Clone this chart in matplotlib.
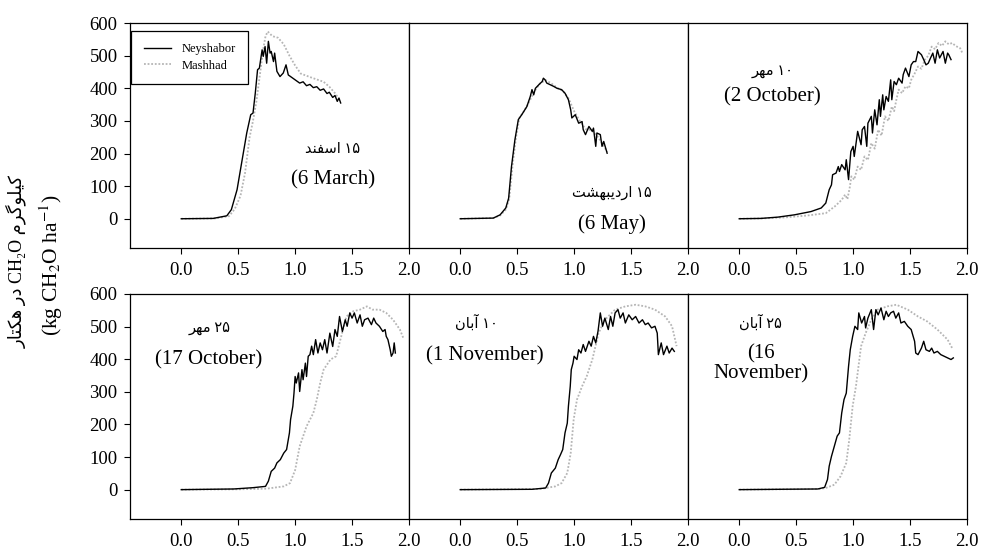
import matplotlib
matplotlib.use('Agg')
import matplotlib.pyplot as plt

plt.rcParams['font.family'] = ['Liberation Serif', 'DejaVu Sans']
plt.rcParams['mathtext.fontset'] = 'stix'

# --- данные (x: 0..2, y: kg CH2O ha-1) ---
mar_x_ney = [0.00, 0.28, 0.40, 0.44, 0.49, 0.53, 0.575, 0.61, 0.63, 0.65, 0.67, 0.686, 0.71, 0.72,
             0.736, 0.75, 0.765, 0.78, 0.79, 0.81, 0.82, 0.84, 0.867, 0.896, 0.92, 0.94, 0.98,
             1.04, 1.07, 1.10, 1.13, 1.16, 1.19, 1.22, 1.25, 1.28, 1.30, 1.33, 1.35, 1.37, 1.385, 1.40]
mar_y_ney = [0, 1, 9, 28, 89, 171, 263, 319, 324, 385, 457, 462, 518, 498,
             528, 477, 544, 508, 513, 482, 508, 452, 436, 447, 472, 441, 431,
             416, 420, 408, 412, 402, 405, 394, 398, 384, 388, 372, 378, 360, 370, 355]
mar_x_msh = [0, 0.3, 0.42, 0.47, 0.52, 0.56, 0.6, 0.63, 0.66, 0.69, 0.72, 0.74, 0.76, 0.8,
             0.85, 0.9, 0.95, 1.0, 1.05, 1.15, 1.25, 1.3, 1.35, 1.39]
mar_y_msh = [0, 1, 8, 30, 70, 140, 250, 300, 360, 440, 520, 560, 574, 560,
             555, 535, 500, 470, 445, 432, 420, 405, 385, 365]

may_x_ney = [0.0, 0.29, 0.35, 0.40, 0.425, 0.45, 0.48, 0.51, 0.54, 0.585, 0.615, 0.63, 0.645, 0.66,
             0.69, 0.72, 0.73, 0.745, 0.76, 0.79, 0.82, 0.85, 0.89, 0.92, 0.95, 0.97, 0.98, 1.01,
             1.04, 1.07, 1.08, 1.10, 1.13, 1.16, 1.17, 1.19, 1.20, 1.23, 1.245, 1.26, 1.29]
may_y_ney = [0, 2, 12, 33, 63, 160, 242, 304, 319, 344, 375, 396, 380, 400,
             411, 421, 431, 426, 416, 411, 406, 400, 396, 385, 365, 334, 309, 319,
             293, 298, 273, 258, 283, 268, 278, 222, 263, 258, 222, 237, 201]
may_x_msh = [0, 0.29, 0.35, 0.40, 0.43, 0.46, 0.49, 0.52, 0.56, 0.60, 0.65, 0.70, 0.75, 0.80,
             0.85, 0.90, 0.95, 1.0, 1.05, 1.10, 1.15, 1.20, 1.25, 1.29]
may_y_msh = [0, 2, 10, 28, 60, 165, 250, 310, 330, 355, 390, 415, 425, 415,
             402, 392, 370, 330, 300, 275, 272, 255, 230, 205]

oct2_x_ney = [0.0, 0.19, 0.34, 0.485, 0.63, 0.72, 0.76, 0.79, 0.81, 0.82, 0.85, 0.87, 0.88, 0.90,
              0.93, 0.94, 0.96, 0.98, 1.0, 1.01, 1.03, 1.04, 1.07, 1.08, 1.10, 1.12, 1.13, 1.16,
              1.17, 1.19, 1.21, 1.23, 1.24, 1.26, 1.27, 1.29, 1.31, 1.33, 1.34, 1.36, 1.38, 1.40,
              1.43, 1.44, 1.46, 1.49, 1.51, 1.53, 1.55, 1.57, 1.60, 1.62, 1.64, 1.66, 1.68, 1.70,
              1.72, 1.74, 1.76, 1.79, 1.81, 1.83, 1.84, 1.86]
oct2_y_ney = [0, 1, 5, 12, 22, 33, 48, 89, 104, 135, 140, 160, 145, 166,
              150, 181, 120, 206, 222, 191, 242, 268, 227, 273, 283, 222, 293, 314,
              263, 334, 288, 365, 314, 380, 334, 375, 360, 426, 365, 421, 411, 431,
              416, 442, 462, 436, 472, 482, 482, 513, 503, 488, 472, 477, 493, 508,
              477, 518, 493, 513, 477, 508, 503, 488]
oct2_x_msh = [0, 0.2, 0.4, 0.6, 0.76, 0.84, 0.9, 0.93, 0.95, 0.97, 0.985, 1.01, 1.04, 1.07, 1.10,
              1.13, 1.16, 1.19, 1.22, 1.25, 1.28, 1.31, 1.34, 1.36, 1.38, 1.40, 1.43, 1.46, 1.49,
              1.51, 1.54, 1.57, 1.60, 1.63, 1.66, 1.69, 1.72, 1.75, 1.78, 1.81, 1.84, 1.87, 1.90,
              1.94, 1.96]
oct2_y_msh = [0, 1, 4, 10, 17, 38, 58, 74, 60, 95, 130, 120, 160, 150, 191,
              180, 232, 215, 273, 255, 314, 300, 344, 330, 365, 396, 385, 406, 400,
              426, 445, 467, 460, 488, 500, 528, 520, 539, 530, 544, 535, 539, 530,
              523, 508]

oct17_x_ney = [0.0, 0.46, 0.63, 0.74, 0.765, 0.79, 0.82, 0.84, 0.87, 0.90, 0.925, 0.95, 0.96, 0.98,
               0.99, 1.0, 1.01, 1.03, 1.04, 1.06, 1.07, 1.09, 1.10, 1.115, 1.13, 1.145, 1.16, 1.18,
               1.20, 1.22, 1.24, 1.26, 1.28, 1.305, 1.33, 1.35, 1.37, 1.39, 1.415, 1.44, 1.457, 1.48,
               1.50, 1.52, 1.545, 1.57, 1.59, 1.61, 1.64, 1.67, 1.69, 1.71, 1.74, 1.77, 1.79, 1.80,
               1.815, 1.835, 1.845, 1.86, 1.87, 1.88]
oct17_y_ney = [0, 2, 6, 10, 26, 56, 66, 82, 92, 112, 123, 174, 215, 256,
               296, 347, 327, 358, 301, 368, 337, 388, 347, 409, 414, 440, 414, 460,
               419, 450, 429, 460, 419, 480, 439, 491, 470, 531, 485, 521, 501, 542,
               526, 542, 511, 536, 501, 521, 526, 506, 526, 511, 501, 485, 491, 470,
               460, 429, 409, 419, 450, 419]
oct17_x_msh = [0, 0.5, 0.75, 0.90, 0.955, 1.0, 1.04, 1.10, 1.16, 1.19, 1.22, 1.25, 1.31, 1.36,
               1.39, 1.45, 1.51, 1.57, 1.63, 1.68, 1.74, 1.80, 1.86, 1.92, 1.95]
oct17_y_msh = [0, 1, 3, 10, 20, 60, 133, 194, 235, 276, 327, 368, 399, 409,
               450, 531, 547, 552, 562, 552, 552, 542, 521, 491, 465]

nov1_x_ney = [0.0, 0.63, 0.75, 0.775, 0.80, 0.835, 0.86, 0.88, 0.90, 0.92, 0.94, 0.95, 0.966, 0.975,
              0.99, 1.0, 1.025, 1.04, 1.06, 1.08, 1.10, 1.13, 1.15, 1.17, 1.19, 1.21, 1.23, 1.25,
              1.27, 1.30, 1.32, 1.34, 1.36, 1.385, 1.405, 1.43, 1.45, 1.48, 1.51, 1.54, 1.57, 1.60,
              1.625, 1.65, 1.68, 1.71, 1.73, 1.74, 1.765, 1.785, 1.815, 1.835, 1.86, 1.88]
nov1_y_ney = [0, 1, 5, 20, 51, 66, 92, 107, 123, 174, 204, 256, 317, 368,
              388, 409, 399, 429, 419, 445, 424, 455, 440, 470, 450, 486, 542, 501,
              526, 491, 531, 501, 542, 552, 526, 542, 511, 536, 521, 531, 511, 521,
              506, 511, 496, 501, 480, 414, 450, 414, 440, 419, 434, 424]
nov1_x_msh = [0, 0.7, 0.835, 0.89, 0.94, 0.97, 0.996, 1.025, 1.07, 1.11, 1.16, 1.215, 1.27, 1.36,
              1.45, 1.54, 1.625, 1.71, 1.80, 1.86, 1.90]
nov1_y_msh = [0, 2, 10, 20, 51, 112, 215, 276, 317, 347, 399, 480, 521, 552,
              562, 567, 562, 552, 531, 501, 440]

nov16_x_ney = [0.0, 0.69, 0.75, 0.775, 0.79, 0.81, 0.835, 0.86, 0.88, 0.90, 0.92, 0.94, 0.96, 0.975,
               0.996, 1.016, 1.04, 1.05, 1.075, 1.10, 1.11, 1.13, 1.16, 1.18, 1.20, 1.22, 1.245, 1.27,
               1.29, 1.31, 1.33, 1.355, 1.375, 1.40, 1.42, 1.45, 1.48, 1.51, 1.54, 1.55, 1.57, 1.60,
               1.62, 1.64, 1.67, 1.69, 1.71, 1.74, 1.77, 1.80, 1.83, 1.86, 1.88]
nov16_y_ney = [0, 2, 7, 31, 72, 102, 133, 164, 174, 235, 276, 296, 378, 429,
               470, 501, 491, 542, 511, 531, 496, 526, 552, 491, 552, 536, 557, 521,
               547, 531, 542, 547, 526, 542, 511, 516, 501, 491, 455, 419, 414, 434,
               455, 429, 424, 434, 419, 424, 414, 409, 404, 399, 404]
nov16_x_msh = [0, 0.7, 0.76, 0.835, 0.89, 0.94, 0.966, 0.996, 1.025, 1.07, 1.11, 1.16, 1.215, 1.30,
               1.38, 1.48, 1.57, 1.65, 1.74, 1.83, 1.87]
nov16_y_msh = [0, 2, 5, 15, 41, 82, 153, 256, 317, 440, 480, 521, 552, 562,
               567, 552, 531, 516, 491, 460, 434]

# Persian date labels (logical order) and English dates
fa_labels = [('۱۵', 'اسفند'), ('۱۵', 'اردیبهشت'), ('۱۰', 'مهر'),
             ('۲۵', 'مهر'), ('۱۰', 'آبان'), ('۲۵', 'آبان')]
en_labels = ['(6 March)', '(6 May)', '(2 October)',
             '(17 October)', '(1 November)', '(16\nNovember)']
# label anchor positions (data coords): persian, english
fa_pos = [(1.33, 212), (1.33, 79), (0.29, 452), (0.25, 496), (0.14, 511), (0.19, 511)]
en_pos = [(1.33, 120), (1.33, -18), (0.29, 375), (0.24, 399), (0.22, 409), (0.19, 386)]

# простое ручное соединение арабских букв (matplotlib не умеет shaping)
FORMS = {
    'ا': ('\ufe8d', '\ufe8e', None, None),
    'آ': ('\ufe81', '\ufe82', None, None),
    'ب': ('\ufe8f', '\ufe90', '\ufe91', '\ufe92'),
    'ت': ('\ufe95', '\ufe96', '\ufe97', '\ufe98'),
    'د': ('\ufea9', '\ufeaa', None, None),
    'ر': ('\ufead', '\ufeae', None, None),
    'س': ('\ufeb1', '\ufeb2', '\ufeb3', '\ufeb4'),
    'ش': ('\ufeb5', '\ufeb6', '\ufeb7', '\ufeb8'),
    'ف': ('\ufed1', '\ufed2', '\ufed3', '\ufed4'),
    'ل': ('\ufedd', '\ufede', '\ufedf', '\ufee0'),
    'م': ('\ufee1', '\ufee2', '\ufee3', '\ufee4'),
    'ن': ('\ufee5', '\ufee6', '\ufee7', '\ufee8'),
    'ه': ('\ufee9', '\ufeea', '\ufeeb', '\ufeec'),
    'و': ('\ufeed', '\ufeee', None, None),
    'ی': ('\ufbfc', '\ufbfd', '\ufbfe', '\ufbff'),
    'ک': ('\ufb8e', '\ufb8f', '\ufb90', '\ufb91'),
    'گ': ('\ufb92', '\ufb93', '\ufb94', '\ufb95'),
}


def shape(word):
    # возвращает слово в визуальном порядке (слева направо)
    out = []
    for i, ch in enumerate(word):
        iso, fin, ini, med = FORMS[ch]
        prev = i > 0 and FORMS[word[i - 1]][2] is not None
        nxt = ini is not None and i < len(word) - 1
        if prev and nxt:
            out.append(med)
        elif prev:
            out.append(fin)
        elif nxt:
            out.append(ini)
        else:
            out.append(iso)
    return ''.join(reversed(out))


panels = [
    (mar_x_ney, mar_y_ney, mar_x_msh, mar_y_msh),
    (may_x_ney, may_y_ney, may_x_msh, may_y_msh),
    (oct2_x_ney, oct2_y_ney, oct2_x_msh, oct2_y_msh),
    (oct17_x_ney, oct17_y_ney, oct17_x_msh, oct17_y_msh),
    (nov1_x_ney, nov1_y_ney, nov1_x_msh, nov1_y_msh),
    (nov16_x_ney, nov16_y_ney, nov16_x_msh, nov16_y_msh),
]

fig, axes = plt.subplots(2, 3, figsize=(9.82, 5.5), dpi=100)
fig.subplots_adjust(left=0.1324, right=0.9847, top=0.958, bottom=0.0564,
                    wspace=0, hspace=0.204)

for i, ax in enumerate(axes.flat):
    xn, yn, xm, ym = panels[i]
    ax.plot(xm, ym, color='#b5b5b5', linestyle=(0, (1, 1)), linewidth=1.3, label='Mashhad')
    ax.plot(xn, yn, color='black', linewidth=1.0, label='Neyshabor')
    ax.set_xlim(-0.45, 2.0)
    ax.set_ylim(-90, 600)
    ax.set_xticks([0.0, 0.5, 1.0, 1.5, 2.0])
    ax.set_xticklabels(['0.0', '0.5', '1.0', '1.5', '2.0'])
    ax.set_yticks(range(0, 601, 100))
    ax.tick_params(axis='x', direction='out', length=4, width=0.8, labelsize=13.5, pad=6)
    ax.tick_params(axis='y', direction='out', length=4, width=0.8, labelsize=13.5, pad=5)
    if i % 3 != 0:
        ax.tick_params(axis='y', left=False, labelleft=False)
    for s in ax.spines.values():
        s.set_linewidth(0.9)
        s.set_color('black')

    # справа налево: число стоит справа от слова
    digits, word = fa_labels[i]
    ax.text(fa_pos[i][0], fa_pos[i][1], shape(word) + ' ' + digits,
            ha='center', va='center', fontsize=10.5)
    ax.text(en_pos[i][0], en_pos[i][1], en_labels[i],
            ha='center', va='center', fontsize=15, linespacing=1.05)

# легенда только на первой панели
h, l = axes[0, 0].get_legend_handles_labels()
leg = axes[0, 0].legend(h[::-1], l[::-1], loc='upper left', bbox_to_anchor=(0.005, 0.965),
                        fontsize=9, frameon=True, fancybox=False, framealpha=1,
                        edgecolor='black', borderpad=1.0, labelspacing=0.35,
                        handlelength=2.2, handletextpad=0.8, borderaxespad=0)
leg.get_frame().set_linewidth(0.9)

# подпись оси Y (две строки)
fa_ylabel = shape('هکتار') + ' ' + shape('در') + ' CH₂O ' + shape('کیلوگرم')
fig.text(16 / 982, 1 - 262 / 550, fa_ylabel, rotation=90, ha='center', va='center', fontsize=13)
fig.text(51 / 982, 1 - 265 / 550, r'(kg CH$_2$O ha$^{-1}$)', rotation=90,
         ha='center', va='center', fontsize=15.5)

plt.savefig('out.png', dpi=100)
